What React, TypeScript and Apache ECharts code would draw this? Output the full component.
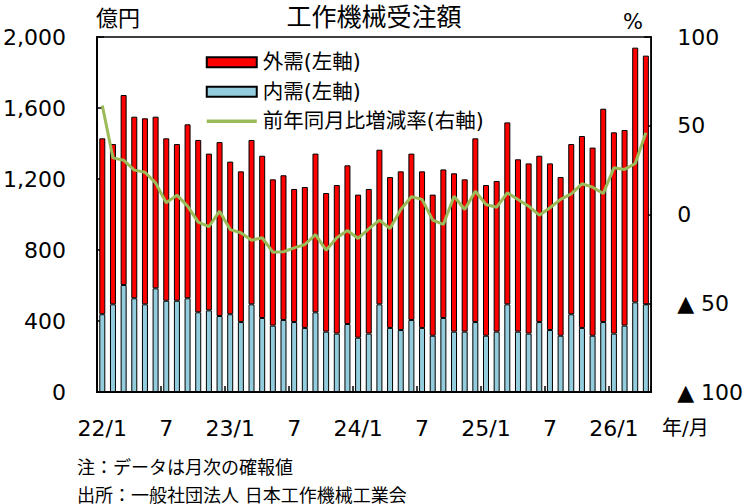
import React, { useEffect, useRef } from "react";
import * as echarts from "echarts";

const categories = [
  "22/1", "22/2", "22/3", "22/4", "22/5", "22/6", "22/7", "22/8", "22/9", "22/10", "22/11", "22/12",
  "23/1", "23/2", "23/3", "23/4", "23/5", "23/6", "23/7", "23/8", "23/9", "23/10", "23/11", "23/12",
  "24/1", "24/2", "24/3", "24/4", "24/5", "24/6", "24/7", "24/8", "24/9", "24/10", "24/11", "24/12",
  "25/1", "25/2", "25/3", "25/4", "25/5", "25/6", "25/7", "25/8", "25/9", "25/10", "25/11", "25/12",
  "26/1", "26/2", "26/3", "26/4",
];

// 内需 (億円)
const domesticOrders = [
  438, 494, 603, 528, 494, 584, 514, 514, 528, 449, 460, 428,
  438, 394, 494, 417, 374, 406, 394, 361, 449, 340, 329, 383,
  306, 329, 494, 361, 349, 406, 361, 317, 417, 340, 340, 394,
  317, 340, 494, 340, 329, 394, 349, 317, 438, 361, 317, 394,
  329, 374, 505, 494,
];

// 外需 (億円)
const foreignOrders = [
  991, 903, 1070, 1023, 1048, 967, 915, 883, 980, 971, 883, 980,
  860, 849, 926, 914, 824, 815, 750, 794, 894, 781, 837, 894,
  806, 815, 871, 850, 894, 937, 882, 795, 837, 892, 858, 1035,
  849, 849, 1025, 971, 959, 937, 939, 894, 959, 1081, 1060, 1202,
  1134, 1102, 1435, 1401,
];

// 前年同月比増減率 (%)
const yoyChange = [
  61.4, 31.9, 30.6, 25.0, 23.8, 17.8, 6.6, 10.9, 4.7, -4.3, -6.9, 1.9,
  -8.5, -10.3, -14.5, -13.1, -21.2, -21.0, -18.8, -16.9, -11.3, -20.1, -13.1, -9.0,
  -13.5, -8.1, -3.2, -7.9, 2.8, 10.0, 8.5, -3.2, -5.6, 10.3, 2.8, 13.1,
  5.6, 4.1, 12.2, 8.5, 4.7, -0.4, 3.8, 8.5, 11.6, 17.3, 15.4, 11.8,
  26.3, 25.4, 28.7, 46.0,
];

const seriesNames = ["外需(左軸)", "内需(左軸)", "前年同月比増減率(右軸)"];

const FONT = "'DejaVu Sans', 'Noto Sans CJK JP', sans-serif";
const GREEN = "#9BBB59";

export default function App() {
  const ref = useRef<HTMLDivElement>(null);

  useEffect(() => {
    if (!ref.current) return;
    const chart = echarts.init(ref.current, undefined, { renderer: "svg" });

    chart.setOption({
      animation: false,
      backgroundColor: "#fff",
      textStyle: { fontFamily: FONT, color: "#000" },
      grid: {
        left: 96.5,
        top: 37,
        width: 554.7,
        height: 355,
        show: true,
        borderColor: "#000",
        borderWidth: 1.5,
        containLabel: false,
      },
      legend: {
        orient: "vertical",
        left: 200,
        top: 47,
        itemWidth: 50,
        itemHeight: 10,
        itemGap: 9,
        data: [
          { name: seriesNames[0], icon: "rect" },
          { name: seriesNames[1], icon: "rect" },
          {
            name: seriesNames[2],
            itemStyle: { color: "rgba(0,0,0,0)", borderWidth: 0, opacity: 0 },
            lineStyle: { color: GREEN, width: 3.5 },
          },
        ],
        textStyle: {
          fontFamily: FONT,
          fontSize: 20.5,
          color: "#000",
          padding: [0, 0, 0, 1],
        },
      },
      xAxis: {
        type: "category",
        data: categories,
        boundaryGap: true,
        axisLine: { show: true, lineStyle: { color: "#000", width: 2 } },
        axisTick: {
          show: true,
          inside: true,
          interval: 5,
          length: 6,
          lineStyle: { color: "#000", width: 1.5 },
        },
        axisLabel: {
          interval: 5,
          margin: 25,
          fontSize: 22,
          color: "#000",
          fontFamily: FONT,
          formatter: (v: string) => (v.endsWith("/1") ? v : v.split("/")[1]),
        },
        splitLine: { show: false },
      },
      yAxis: [
        {
          type: "value",
          min: 0,
          max: 2000,
          interval: 400,
          position: "left",
          axisLine: { show: true, lineStyle: { color: "#000", width: 2 } },
          axisTick: {
            show: true,
            inside: true,
            length: 7,
            lineStyle: { color: "#000", width: 1.5 },
          },
          axisLabel: {
            margin: 31,
            fontSize: 22,
            color: "#000",
            fontFamily: FONT,
            formatter: (v: number) => v.toLocaleString("en-US"),
          },
          splitLine: { show: false },
        },
        {
          type: "value",
          min: -100,
          max: 100,
          interval: 50,
          position: "right",
          axisLine: { show: true, lineStyle: { color: "#000", width: 1.5 } },
          axisTick: {
            show: true,
            inside: true,
            length: 7,
            lineStyle: { color: "#000", width: 1.5 },
          },
          axisLabel: {
            margin: 26,
            fontSize: 22,
            color: "#000",
            fontFamily: FONT,
            align: "left",
            formatter: (v: number) => (v < 0 ? "▲ " + -v : String(v)),
          },
          splitLine: { show: false },
        },
      ],
      series: [
        {
          name: seriesNames[1],
          type: "bar",
          stack: "orders",
          data: domesticOrders,
          barWidth: 6,
          itemStyle: { color: "#93CDDD", borderColor: "#000", borderWidth: 1 },
        },
        {
          name: seriesNames[0],
          type: "bar",
          stack: "orders",
          data: foreignOrders,
          barWidth: 6,
          itemStyle: { color: "#FF0000", borderColor: "#000", borderWidth: 1 },
        },
        {
          name: seriesNames[2],
          type: "line",
          yAxisIndex: 1,
          data: yoyChange,
          symbol: "none",
          showSymbol: false,
          z: 5,
          itemStyle: { color: GREEN },
          lineStyle: { color: GREEN, width: 3 },
        },
      ],
      graphic: [
        {
          type: "text",
          x: 374,
          y: 17,
          style: {
            text: "工作機械受注額",
            fontSize: 25,
            fontFamily: FONT,
            fill: "#000",
            align: "center",
            verticalAlign: "middle",
          },
        },
        {
          type: "text",
          x: 96,
          y: 18,
          style: {
            text: "億円",
            fontSize: 22,
            fontFamily: FONT,
            fill: "#000",
            align: "left",
            verticalAlign: "middle",
          },
        },
        {
          type: "text",
          x: 633,
          y: 22,
          style: {
            text: "%",
            fontSize: 21,
            fontFamily: FONT,
            fill: "#000",
            align: "center",
            verticalAlign: "middle",
          },
        },
        {
          type: "text",
          x: 662,
          y: 428,
          style: {
            text: "年/月",
            fontSize: 20,
            fontFamily: FONT,
            fill: "#000",
            align: "left",
            verticalAlign: "middle",
          },
        },
        {
          type: "text",
          x: 77,
          y: 467,
          style: {
            text: "注：データは月次の確報値",
            fontSize: 18,
            fontFamily: FONT,
            fill: "#000",
            align: "left",
            verticalAlign: "middle",
          },
        },
        {
          type: "text",
          x: 77,
          y: 495,
          style: {
            text: "出所：一般社団法人 日本工作機械工業会",
            fontSize: 18,
            fontFamily: FONT,
            fill: "#000",
            align: "left",
            verticalAlign: "middle",
          },
        },
      ],
    });

    return () => {
      chart.dispose();
    };
  }, []);

  return (
    <div
      ref={ref}
      style={{ width: 750, height: 504, position: "absolute", left: 0, top: 0 }}
    />
  );
}
